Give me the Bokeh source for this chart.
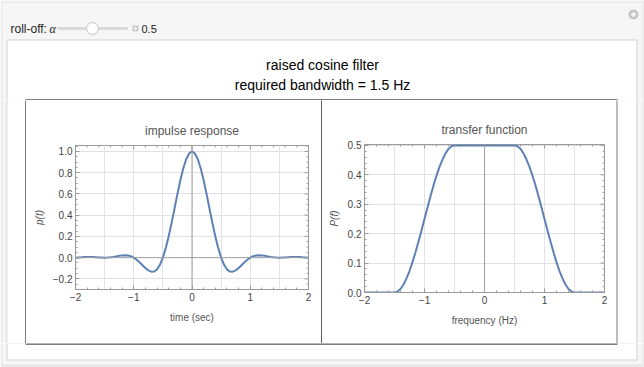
from bokeh.plotting import figure
from bokeh.layouts import column, row
from bokeh.models import (Range1d, SingleIntervalTicker, Span,
                          CustomJSTickFormatter)
from bokeh.core.properties import value
from bokeh.embed import file_html
from bokeh.resources import INLINE
import math

# ---------------- data ----------------
main_title = "raised cosine filter"
sub_title = "required bandwidth = 1.5 Hz"
control_label = "roll-off: "
control_symbol = "α"
control_value = "0.5"

left_title = "impulse response"
left_xlabel = "time (sec)"
left_ylabel = "p(t)"
right_title = "transfer function"
right_xlabel = "frequency (Hz)"
right_ylabel = "P(f)"

t_values = [-2.0, -1.95, -1.9, -1.85, -1.8, -1.75, -1.7, -1.65, -1.6, -1.55,
            -1.5, -1.45, -1.4, -1.35, -1.3, -1.25, -1.2, -1.15, -1.1, -1.05,
            -1.0, -0.95, -0.9, -0.85, -0.8, -0.75, -0.7, -0.65, -0.6, -0.55,
            -0.5, -0.45, -0.4, -0.35, -0.3, -0.25, -0.2, -0.15, -0.1, -0.05,
            0.0, 0.05, 0.1, 0.15, 0.2, 0.25, 0.3, 0.35, 0.4, 0.45,
            0.5, 0.55, 0.6, 0.65, 0.7, 0.75, 0.8, 0.85, 0.9, 0.95,
            1.0, 1.05, 1.1, 1.15, 1.2, 1.25, 1.3, 1.35, 1.4, 1.45,
            1.5, 1.55, 1.6, 1.65, 1.7, 1.75, 1.8, 1.85, 1.9, 1.95, 2.0]
p_values = [0.0, 0.002, 0.003, 0.005, 0.006, 0.006, 0.005, 0.004, 0.002, 0.001,
            0.0, 0.001, 0.003, 0.007, 0.012, 0.017, 0.021, 0.023, 0.021, 0.014,
            0.0, -0.020, -0.044, -0.071, -0.098, -0.120, -0.132, -0.130, -0.110, -0.067,
            0.0, 0.090, 0.201, 0.327, 0.463, 0.600, 0.729, 0.840, 0.927, 0.981,
            1.0, 0.981, 0.927, 0.840, 0.729, 0.600, 0.463, 0.327, 0.201, 0.090,
            0.0, -0.067, -0.110, -0.130, -0.132, -0.120, -0.098, -0.071, -0.044, -0.020,
            0.0, 0.014, 0.021, 0.023, 0.021, 0.017, 0.012, 0.007, 0.003, 0.001,
            0.0, 0.001, 0.002, 0.004, 0.005, 0.006, 0.006, 0.005, 0.003, 0.002, 0.0]

f_values = list(t_values)
P_values = [0.0, 0.0, 0.0, 0.0, 0.0, 0.0, 0.0, 0.0, 0.0, 0.0,
            0.0, 0.003, 0.012, 0.027, 0.048, 0.073, 0.103, 0.137, 0.173, 0.211,
            0.250, 0.289, 0.327, 0.364, 0.397, 0.427, 0.452, 0.473, 0.488, 0.497,
            0.5, 0.5, 0.5, 0.5, 0.5, 0.5, 0.5, 0.5, 0.5, 0.5,
            0.5, 0.5, 0.5, 0.5, 0.5, 0.5, 0.5, 0.5, 0.5, 0.5,
            0.5, 0.497, 0.488, 0.473, 0.452, 0.427, 0.397, 0.364, 0.327, 0.289,
            0.250, 0.211, 0.173, 0.137, 0.103, 0.073, 0.048, 0.027, 0.012, 0.003,
            0.0, 0.0, 0.0, 0.0, 0.0, 0.0, 0.0, 0.0, 0.0, 0.0, 0.0]

# tick positions (shared x ticks, per-plot y ticks)
x_major = [-2, -1, 0, 1, 2]
x_minor = [-1.8, -1.6, -1.4, -1.2, -0.8, -0.6, -0.4, -0.2,
           0.2, 0.4, 0.6, 0.8, 1.2, 1.4, 1.6, 1.8]
left_y_major = [-0.2, 0.0, 0.2, 0.4, 0.6, 0.8, 1.0]
left_y_minor = [-0.25, -0.15, -0.1, -0.05, 0.05, 0.1, 0.15, 0.25, 0.3, 0.35,
                0.45, 0.5, 0.55, 0.65, 0.7, 0.75, 0.85, 0.9, 0.95, 1.05]
right_y_major = [0.0, 0.1, 0.2, 0.3, 0.4, 0.5]
right_y_minor = [0.02, 0.04, 0.06, 0.08, 0.12, 0.14, 0.16, 0.18, 0.22, 0.24,
                 0.26, 0.28, 0.32, 0.34, 0.36, 0.38, 0.42, 0.44, 0.46, 0.48]

# ---------------- style ----------------
FONT = "Liberation Sans"
OUTER_BG = "#f6f6f6"
PANEL_BORDER = "#cfcfcf"
EDGE = "#e4e4e4"
FRAME = "#9a9a9a"
GRID = "#e2e2e2"
ZERO = "#a0a0a0"
CURVE = "#5E81B5"
TICK_TEXT = "#444444"
LABEL_TEXT = "#555555"


def blank(width, height, bg):
    f = figure(width=width, height=height, x_range=Range1d(0, width),
               y_range=Range1d(height, 0), x_axis_type=None, y_axis_type=None,
               toolbar_location=None, output_backend="svg", min_border=0,
               background_fill_color=bg, border_fill_color=bg,
               outline_line_color=None, frame_align=False)
    f.grid.visible = False
    return f


def box(f, l, r, t, b, color):
    f.quad(left=[l], right=[r], top=[t], bottom=[b], fill_color=color, line_color=None)


def txt(f, x, y, s, size, color="#000000", align="left", font=FONT, style="normal"):
    f.text(x=[x], y=[y], text=[s], text_font=value(font),
           text_font_size=value(size), text_color=color, text_align=align,
           text_baseline="middle", text_font_style=style)


# ---------------- top strip ----------------
top = blank(644, 100, OUTER_BG)
box(top, 1, 643, 1, 2, EDGE)
box(top, 1, 2, 1, 100, EDGE)
box(top, 642, 643, 1, 100, EDGE)
# controls
txt(top, 10, 28, control_label, "12px", "#222222")
txt(top, 49, 28, control_symbol, "12px", "#222222", font="Liberation Serif", style="italic")
top.line(x=[58, 126], y=[28, 28], line_color="#dadada", line_width=3, line_cap="round")
top.scatter(x=[92], y=[28], size=12, fill_color="white", line_color="#c4c4c4")
box(top, 132, 138, 25, 31, "#cccccc")
top.segment(x0=[133.5, 135], y0=[28, 26.5], x1=[136.5, 135], y1=[28, 29.5],
            line_color="white", line_width=1)
txt(top, 141, 28, control_value, "11px", "#222222")
# top-right icon
top.scatter(x=[633], y=[14], size=10, fill_color="#c4c4c4", line_color=None)
top.segment(x0=[630.5, 633], y0=[14, 11.5], x1=[635.5, 633], y1=[14, 16.5],
            line_color="white", line_width=1.5)
# inner panel
box(top, 6, 637, 39, 100, PANEL_BORDER)
box(top, 7, 636, 40, 100, "white")
txt(top, 322, 64, main_title, "14px", "#000000", align="center")
txt(top, 322, 84, sub_title, "14px", "#000000", align="center")
box(top, 25, 617, 99, 100, "black")

# ---------------- side margins ----------------
H = 243
mL = blank(26, H, OUTER_BG)
box(mL, 1, 2, 0, H, EDGE)
box(mL, 6, 7, 0, H, PANEL_BORDER)
box(mL, 7, 25, 0, H, "white")
box(mL, 25, 26, 0, H, "black")

mR = blank(28, H, OUTER_BG)
box(mR, 0, 1, 0, H, "black")
box(mR, 1, 20, 0, H, "white")
box(mR, 20, 21, 0, H, PANEL_BORDER)
box(mR, 26, 27, 0, H, EDGE)

sep = blank(1, H, "black")
box(sep, 0, 1, 0, H, "black")

# ---------------- bottom strip ----------------
bot = blank(644, 24, OUTER_BG)
box(bot, 6, 637, 0, 17, PANEL_BORDER)
box(bot, 7, 636, 0, 16, "white")
box(bot, 25, 617, 0, 1, "black")
box(bot, 1, 2, 0, 22, EDGE)
box(bot, 642, 643, 0, 22, EDGE)
box(bot, 1, 643, 21, 23, EDGE)


# ---------------- plots ----------------
def fmt(decimals):
    return CustomJSTickFormatter(args=dict(d=decimals), code="""
        const s = Math.abs(tick).toFixed(d);
        return (tick < -1e-9 ? '\u2212' : '') + s;
    """)


def style_axis(ax, xint, nminor, dec):
    ax.ticker = SingleIntervalTicker(interval=xint, num_minor_ticks=nminor)
    ax.formatter = fmt(dec)
    ax.axis_line_color = FRAME
    ax.major_tick_line_color = FRAME
    ax.minor_tick_line_color = FRAME
    ax.major_tick_in = 4
    ax.major_tick_out = 0
    ax.minor_tick_in = 2
    ax.minor_tick_out = 0
    ax.major_label_text_font = FONT
    ax.major_label_text_color = TICK_TEXT
    ax.major_label_text_font_size = "10px"
    ax.major_label_standoff = 3
    ax.axis_label_text_font = FONT
    ax.axis_label_text_color = LABEL_TEXT
    ax.axis_label_text_font_size = "10px"
    ax.axis_label_standoff = 5
    ax.axis_label_text_font_style = "normal"


def make_plot(width, yr, borders, title, xlabel, ylabel, xs, ys,
              yint, yminor, ydec, ygrid, y_major, y_minor, zero_h):
    bl, br, bt, bb = borders
    p = figure(width=width, height=H, x_range=Range1d(-2, 2), y_range=Range1d(*yr),
               x_axis_label=xlabel, y_axis_label=ylabel, title=title,
               toolbar_location=None, output_backend="svg",
               min_border_left=bl, min_border_right=br, min_border_top=bt,
               min_border_bottom=bb, background_fill_color="white",
               border_fill_color="white", outline_line_color=FRAME,
               frame_align=False)
    p.title.align = "center"
    p.title.text_font = FONT
    p.title.text_font_size = "12px"
    p.title.text_font_style = "normal"
    p.title.text_color = LABEL_TEXT
    p.title.standoff = 15
    style_axis(p.xaxis[0], 1, 5, 0)
    p.xaxis[0].axis_label_standoff = 8
    style_axis(p.yaxis[0], yint, yminor, ydec)
    p.yaxis[0].axis_label_text_font_style = "italic"
    p.xgrid.ticker = SingleIntervalTicker(interval=0.5)
    p.ygrid.ticker = SingleIntervalTicker(interval=ygrid)
    p.grid.grid_line_color = GRID
    p.add_layout(Span(location=0, dimension="height", line_color=ZERO, line_width=1))
    if zero_h:
        p.add_layout(Span(location=0, dimension="width", line_color=ZERO, line_width=1))
    # inward ticks on the top and right frame edges (half of each dash is clipped)
    ytop, xright = yr[1], 2
    p.scatter(x=x_major, y=[ytop] * len(x_major), marker="dash", size=8,
              angle=math.pi / 2, line_color=FRAME, line_width=1)
    p.scatter(x=x_minor, y=[ytop] * len(x_minor), marker="dash", size=4,
              angle=math.pi / 2, line_color=FRAME, line_width=1)
    p.scatter(x=[xright] * len(y_major), y=y_major, marker="dash", size=8,
              line_color=FRAME, line_width=1)
    p.scatter(x=[xright] * len(y_minor), y=y_minor, marker="dash", size=4,
              line_color=FRAME, line_width=1)
    p.line(x=xs, y=ys, line_color=CURVE, line_width=2)
    return p


pL = make_plot(295, (-0.3, 1.056), (49, 13, 45, 54), left_title, left_xlabel,
               left_ylabel, t_values, p_values, 0.2, 4, 1, 0.2,
               left_y_major, left_y_minor, True)
pR = make_plot(294, (0.0, 0.503), (42, 12, 44, 51), right_title, right_xlabel,
               right_ylabel, f_values, P_values, 0.1, 5, 1, 0.1,
               right_y_major, right_y_minor, False)

layout = column(top, row(mL, pL, sep, pR, mR, spacing=0), bot, spacing=0)

open("out.html", "w").write(file_html(layout, INLINE))
